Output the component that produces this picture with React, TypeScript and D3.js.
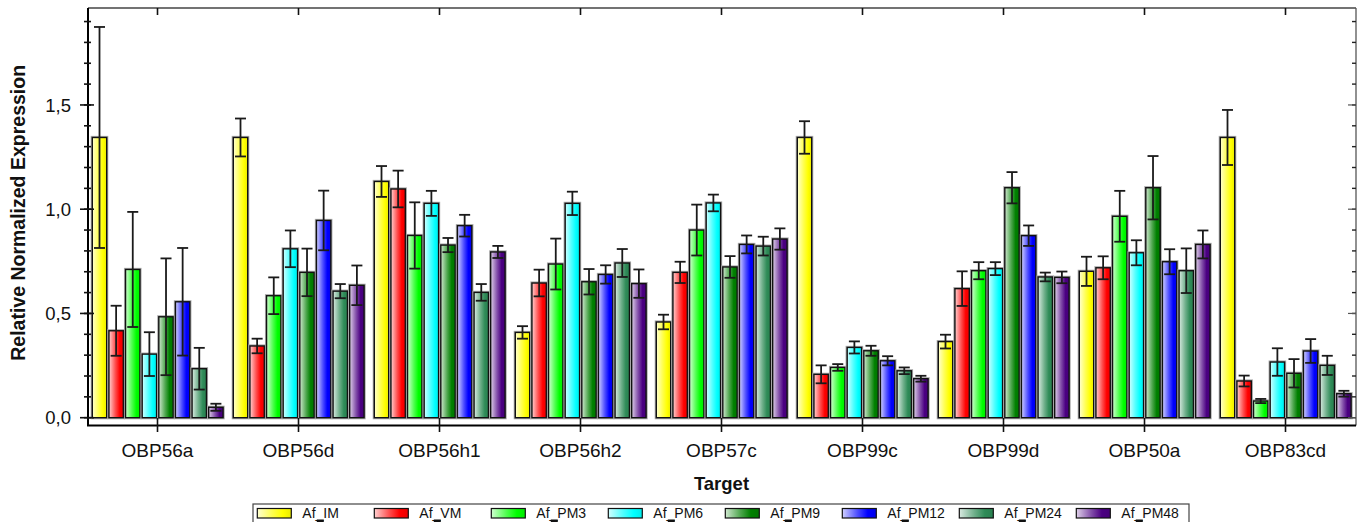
import React from "react";
import * as d3 from "d3";

const categories = ["OBP56a", "OBP56d", "OBP56h1", "OBP56h2", "OBP57c", "OBP99c", "OBP99d", "OBP50a", "OBP83cd"];
const seriesNames = ["Af_IM", "Af_VM", "Af_PM3", "Af_PM6", "Af_PM9", "Af_PM12", "Af_PM24", "Af_PM48"];
const seriesColors = ["#ffff00", "#ff0000", "#00ff00", "#00ffff", "#008000", "#0000ff", "#2e8b57", "#4b0082"];

const afIM = [1.344, 1.344, 1.133, 0.409, 0.459, 1.344, 0.365, 0.702, 1.344];
const afIMErr = [0.53, 0.091, 0.074, 0.03, 0.035, 0.078, 0.033, 0.07, 0.132];
const afVM = [0.417, 0.344, 1.097, 0.646, 0.697, 0.208, 0.619, 0.719, 0.176];
const afVMErr = [0.12, 0.035, 0.088, 0.064, 0.051, 0.043, 0.083, 0.055, 0.026];
const afPM3 = [0.711, 0.585, 0.874, 0.737, 0.9, 0.241, 0.705, 0.966, 0.08];
const afPM3Err = [0.276, 0.088, 0.159, 0.122, 0.122, 0.016, 0.041, 0.122, 0.01];
const afPM6 = [0.305, 0.81, 1.028, 1.028, 1.03, 0.337, 0.715, 0.791, 0.267];
const afPM6Err = [0.105, 0.088, 0.06, 0.056, 0.04, 0.029, 0.031, 0.06, 0.066];
const afPM9 = [0.484, 0.697, 0.828, 0.652, 0.723, 0.321, 1.103, 1.103, 0.213];
const afPM9Err = [0.28, 0.114, 0.034, 0.061, 0.052, 0.024, 0.075, 0.152, 0.068];
const afPM12 = [0.556, 0.946, 0.921, 0.687, 0.831, 0.273, 0.873, 0.748, 0.32];
const afPM12Err = [0.258, 0.143, 0.052, 0.044, 0.043, 0.022, 0.049, 0.06, 0.057];
const afPM24 = [0.235, 0.607, 0.601, 0.742, 0.823, 0.225, 0.675, 0.705, 0.251];
const afPM24Err = [0.1, 0.034, 0.04, 0.067, 0.045, 0.016, 0.021, 0.107, 0.046];
const afPM48 = [0.05, 0.635, 0.795, 0.643, 0.857, 0.187, 0.673, 0.831, 0.115];
const afPM48Err = [0.017, 0.095, 0.029, 0.068, 0.051, 0.014, 0.028, 0.067, 0.014];

const seriesValues = [afIM, afVM, afPM3, afPM6, afPM9, afPM12, afPM24, afPM48];
const seriesErrors = [afIMErr, afVMErr, afPM3Err, afPM6Err, afPM9Err, afPM12Err, afPM24Err, afPM48Err];

const majorTicks = [0, 0.5, 1.0, 1.5];
const majorTickLabels = ["0,0", "0,5", "1,0", "1,5"];
const minorTicks = d3.range(0, 20).map((i) => i / 10);

const W = 1362;
const H = 522;
const left = 88;
const right = 1356;
const top = 8;
const zeroY = 417.7;
const axisY = 425.5;
const FONT = "'Liberation Sans', Arial, sans-serif";

export default function App() {
  const x0 = d3.scaleBand<string>().domain(categories).range([87, 1356]).paddingInner(0).paddingOuter(0);
  const x1 = d3.scaleBand<string>().domain(seriesNames).range([5.3, 136.1]).paddingInner(0.134).paddingOuter(0);
  const y = d3.scaleLinear().domain([0, 1.965]).range([zeroY, top]);
  const mix = (c: string, t: number) => d3.interpolateRgb("#ffffff", c)(t);

  return (
    <svg width={W} height={H} style={{ position: "absolute", left: 0, top: 0, background: "#fff" }} fontFamily={FONT}>
      <defs>
        {seriesColors.map((c, i) => (
          <linearGradient key={i} id={`g${i}`} x1="0" x2="1" y1="0" y2="0">
            <stop offset="0" stopColor={mix(c, 0.18)} />
            <stop offset="0.45" stopColor={mix(c, 0.7)} />
            <stop offset="0.75" stopColor={c} />
            <stop offset="1" stopColor={d3.interpolateRgb(c, "#000")(0.08)} />
          </linearGradient>
        ))}
      </defs>
      <rect x={0} y={0} width={W} height={H} fill="#fff" />

      {/* frame */}
      <line x1={left} x2={right} y1={top} y2={top} stroke="#444" strokeWidth={1.3} />
      <line x1={right} x2={right} y1={top} y2={axisY} stroke="#555" strokeWidth={1.3} />

      {/* bars */}
      {categories.map((cat, ci) => (
        <g key={cat} transform={`translate(${x0(cat)},0)`}>
          {seriesNames.map((s, si) => {
            const v = seriesValues[si][ci];
            const bx = x1(s)!;
            const bw = x1.bandwidth();
            const by = y(v);
            return (
              <g key={s}>
                <rect x={bx} y={by} width={bw} height={zeroY - by} fill="none" stroke="#aaa" strokeWidth={3.2} />
                <rect x={bx} y={by} width={bw} height={zeroY - by} fill={`url(#g${si})`} stroke="#111" strokeWidth={1.4} />
              </g>
            );
          })}
          {seriesNames.map((s, si) => {
            const v = seriesValues[si][ci];
            const e = seriesErrors[si][ci];
            const cx = x1(s)! + x1.bandwidth() / 2;
            const yt = y(v + e);
            const yb = y(v - e);
            const hw = 5.5;
            return (
              <g key={s + "e"} stroke="#1a1a1a" strokeWidth={1.8}>
                <line x1={cx} x2={cx} y1={yt} y2={yb} />
                <line x1={cx - hw} x2={cx + hw} y1={yt} y2={yt} />
                <line x1={cx - hw} x2={cx + hw} y1={yb} y2={yb} />
              </g>
            );
          })}
        </g>
      ))}

      {/* y axis */}
      <line x1={left} x2={left} y1={top} y2={axisY} stroke="#000" strokeWidth={2} />
      {minorTicks.map((t) => (
        <g key={"m" + t}>
          <line x1={84} x2={91} y1={y(t)} y2={y(t)} stroke="#111" strokeWidth={1.6} />
          <line x1={right - 4} x2={right} y1={y(t)} y2={y(t)} stroke="#222" strokeWidth={1.4} />
        </g>
      ))}
      {majorTicks.map((t, i) => (
        <g key={"M" + t}>
          <line x1={80} x2={94} y1={y(t)} y2={y(t)} stroke="#111" strokeWidth={1.6} />
          <line x1={right - 8} x2={right} y1={y(t)} y2={y(t)} stroke="#555" strokeWidth={1.2} />
          <text x={71} y={y(t)} dy="0.36em" textAnchor="end" fontSize={18.5} fill="#111">
            {majorTickLabels[i]}
          </text>
        </g>
      ))}

      {/* x axis */}
      <line x1={left - 1} x2={right} y1={axisY} y2={axisY} stroke="#000" strokeWidth={2} />
      {categories.map((cat) => {
        const cx = x0(cat)! + x0.bandwidth() / 2;
        return (
          <g key={cat + "t"}>
            <line x1={cx} x2={cx} y1={418} y2={432} stroke="#111" strokeWidth={1.6} />
            <line x1={cx} x2={cx} y1={top} y2={15} stroke="#111" strokeWidth={1.6} />
            <text x={cx} y={457} textAnchor="middle" fontSize={19} fill="#111">
              {cat}
            </text>
          </g>
        );
      })}

      {/* axis titles */}
      <text x={721.5} y={490} textAnchor="middle" fontSize={18.5} fontWeight="bold" fill="#111">
        Target
      </text>
      <text
        transform={`translate(25,${(top + zeroY) / 2}) rotate(-90)`}
        textAnchor="middle"
        fontSize={19.5}
        fontWeight="bold"
        fill="#111"
      >
        Relative Normalized Expression
      </text>

      {/* legend */}
      <rect x={253} y={504} width={936} height={30} fill="#fff" stroke="#444" strokeWidth={1.2} />
      {seriesNames.map((s, i) => {
        const lx = 257.3 + i * 117;
        return (
          <g key={s + "l"}>
            <rect x={lx} y={508.5} width={34} height={9.5} fill={`url(#g${i})`} stroke="#111" strokeWidth={1.2} />
            <text x={lx + 45} y={518} fontSize={14} fill="#111">
              {s}
            </text>
            <rect x={lx + 59.5} y={519.5} width={7} height={3} fill="#111" />
          </g>
        );
      })}
    </svg>
  );
}
